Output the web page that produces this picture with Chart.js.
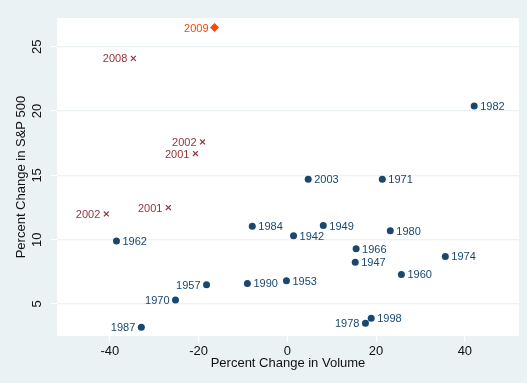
<!DOCTYPE html>
<html>
<head>
<meta charset="utf-8">
<script src="https://cdn.jsdelivr.net/npm/chart.js@4"></script>
<style>
html,body{margin:0;padding:0;background:#eaf2f3;}
#wrap{width:527px;height:383px;}
</style>
</head>
<body>
<div id="wrap"><canvas id="c" width="527" height="383"></canvas></div>
<script>
// ---- data ----
const blueYears = [1962, 1984, 1942, 1949, 1957, 1990, 1953, 1970, 1987, 2003, 1971, 1980, 1966, 1947, 1974, 1960, 1978, 1998, 1982];
const blueVolume = [-38.5, -7.9, 1.4, 8.1, -18.2, -9.0, -0.2, -25.2, -32.9, 4.7, 21.4, 23.2, 15.5, 15.3, 35.6, 25.7, 17.6, 18.9, 42.1];
const blueSP500 = [9.9, 11.05, 10.3, 11.1, 6.5, 6.6, 6.8, 5.3, 3.2, 14.7, 14.7, 10.7, 9.3, 8.25, 8.7, 7.3, 3.5, 3.9, 20.4];

const redYears = [2008, 2002, 2001, 2001, 2002];
const redVolume = [-34.7, -19.1, -20.7, -26.8, -40.8];
const redSP500 = [24.1, 17.6, 16.7, 12.5, 12.0];

const orangeYears = [2009];
const orangeVolume = [-16.4];
const orangeSP500 = [26.5];

const xTicks = [-40, -20, 0, 20, 40];
const yTicks = [5, 10, 15, 20, 25];

// years whose label sits left of the marker (blue series)
const leftLabelYears = [1957, 1970, 1987, 1978];

const FONT = "'Liberation Sans', Arial, sans-serif";
const NAVY = '#1a476f', MAROON = '#90353b', ORANGE = '#ff4500';

function pts(xs, ys) { return xs.map((x, i) => ({x: x, y: ys[i]})); }

const bgPlugin = {
  id: 'bg',
  beforeDraw(chart) {
    const {ctx, chartArea: a} = chart;
    ctx.save();
    ctx.fillStyle = '#eaf2f3';
    ctx.fillRect(0, 0, chart.width, chart.height);
    ctx.fillStyle = '#ffffff';
    ctx.fillRect(a.left, a.top, a.right - a.left, a.bottom - a.top);
    ctx.restore();
  }
};

const labelPlugin = {
  id: 'pointLabels',
  afterDatasetsDraw(chart) {
    const ctx = chart.ctx;
    ctx.save();
    ctx.font = '11px ' + FONT;
    ctx.textBaseline = 'middle';
    chart.data.datasets.forEach((ds, di) => {
      const meta = chart.getDatasetMeta(di);
      meta.data.forEach((el, i) => {
        const yr = ds.years[i];
        const left = ds.labelLeft || leftLabelYears.includes(yr);
        ctx.fillStyle = ds.labelColor;
        ctx.textAlign = left ? 'right' : 'left';
        ctx.fillText(String(yr), el.x + (left ? -6 : 6), el.y + 1);
      });
    });
    ctx.restore();
  }
};

new Chart(document.getElementById('c'), {
  type: 'scatter',
  data: {
    datasets: [
      {
        data: pts(blueVolume, blueSP500), years: blueYears, labelColor: NAVY,
        pointStyle: 'circle', pointRadius: 3.5, backgroundColor: NAVY, borderColor: NAVY, borderWidth: 0
      },
      {
        data: pts(redVolume, redSP500), years: redYears, labelColor: MAROON, labelLeft: true,
        pointStyle: 'crossRot', pointRadius: 3.5, backgroundColor: MAROON, borderColor: MAROON, borderWidth: 1.2
      },
      {
        data: pts(orangeVolume, orangeSP500), years: orangeYears, labelColor: ORANGE, labelLeft: true,
        pointStyle: 'rectRot', pointRadius: 4.5, backgroundColor: ORANGE, borderColor: ORANGE, borderWidth: 0
      }
    ]
  },
  options: {
    responsive: false,
    animation: false,
    layout: {padding: {left: 0, right: 8, top: 18, bottom: 0}},
    plugins: {legend: {display: false}, tooltip: {enabled: false}},
    scales: {
      x: {
        type: 'linear', min: -51.9, max: 52.2,
        afterBuildTicks: s => { s.ticks = xTicks.map(v => ({value: v})); },
        afterFit: s => { s.height = 47; },
        grid: {display: true, drawOnChartArea: false, drawTicks: true, tickLength: 6, tickColor: '#ffffff'},
        border: {display: false},
        ticks: {color: '#111', font: {family: FONT, size: 13}, padding: 2, maxRotation: 0, minRotation: 0},
        title: {display: true, text: 'Percent Change in Volume', color: '#111', font: {family: FONT, size: 13}, padding: {top: 0, bottom: 12}}
      },
      y: {
        type: 'linear', min: 2.51, max: 27.24,
        afterBuildTicks: s => { s.ticks = yTicks.map(v => ({value: v})); },
        afterFit: s => { s.width = 57; },
        grid: {display: true, drawOnChartArea: true, color: '#eaf2f3', lineWidth: 1.2, drawTicks: true, tickLength: 6, tickColor: '#ffffff'},
        border: {display: false},
        ticks: {color: '#111', font: {family: FONT, size: 13}, padding: 6, minRotation: 90, maxRotation: 90, crossAlign: 'center'},
        title: {display: true, text: 'Percent Change in S&P 500', color: '#111', font: {family: FONT, size: 13}, padding: {top: 14, bottom: 0}}
      }
    }
  },
  plugins: [bgPlugin, labelPlugin]
});
</script>
</body>
</html>
